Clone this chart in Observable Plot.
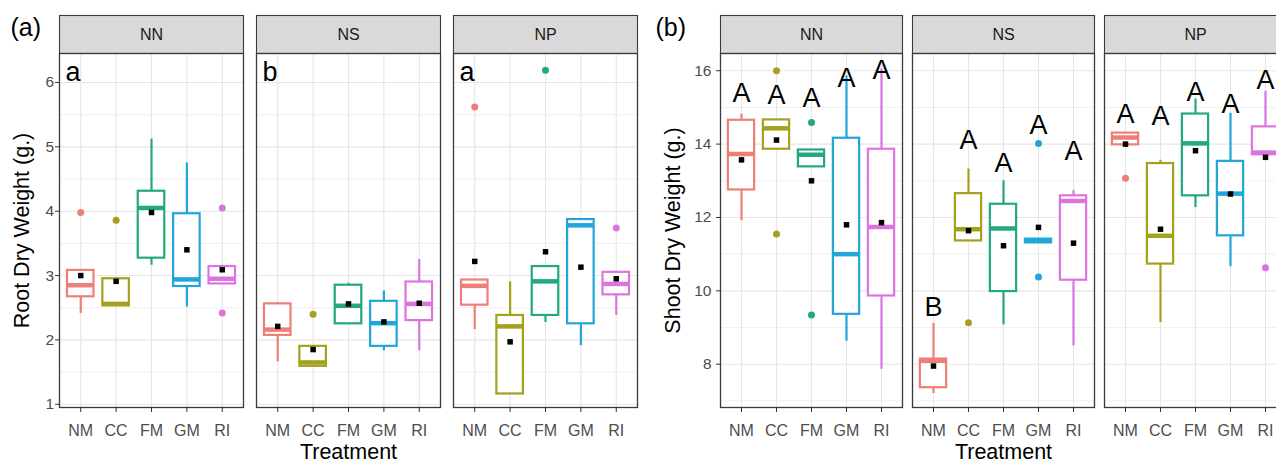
<!DOCTYPE html>
<html>
<head>
<meta charset="utf-8">
<script src="https://cdn.jsdelivr.net/npm/d3@7"></script>
<script src="https://cdn.jsdelivr.net/npm/@observablehq/plot@0.6"></script>
<style>
  html, body { margin: 0; padding: 0; background: #fff; overflow: hidden; }
  #wrap { position: relative; width: 1276px; height: 465px; overflow: hidden; background: #fff; }
  #wrap svg { position: absolute; top: 0; }
</style>
</head>
<body>
<div id="wrap"></div>
<script>
// ---------- categories ----------
const treatments = ["NM", "CC", "FM", "GM", "RI"];
const nutrients = ["NN", "NS", "NP"];
const treatmentColors = ["#EE7F77", "#A4A11E", "#22A882", "#21A6D9", "#DC74E0"];

// ---------- (a) Root dry weight: box statistics, order NN(NM..RI), NS(..), NP(..) ----------
const rootLower  = [2.41, 2.53, 3.16, 2.51, 2.87,   1.66, 1.59, 2.25, 1.83, 1.83,   2.16, 1.16, 2.27, 1.91, 2.38];
const rootQ1     = [2.67, 2.53, 3.27, 2.83, 2.87,   2.07, 1.59, 2.25, 1.90, 2.30,   2.54, 1.16, 2.38, 2.25, 2.70];
const rootMedian = [2.85, 2.56, 4.05, 2.94, 2.95,   2.16, 1.65, 2.53, 2.26, 2.56,   2.84, 2.21, 2.91, 3.78, 2.87];
const rootQ3     = [3.08, 2.95, 4.31, 3.96, 3.14,   2.56, 1.90, 2.85, 2.60, 2.90,   2.93, 2.38, 3.14, 3.87, 3.05];
const rootUpper  = [3.08, 2.95, 5.12, 4.75, 3.14,   2.58, 1.90, 2.88, 2.76, 3.25,   2.93, 2.90, 3.14, 3.87, 3.05];
const rootMean   = [3.00, 2.91, 3.98, 3.40, 3.09,   2.21, 1.85, 2.56, 2.28, 2.57,   3.22, 1.97, 3.37, 3.13, 2.95];
const rootOutFacet = ["NN", "NN", "NN", "NN", "NS", "NP", "NP", "NP"];
const rootOutTrt   = ["NM", "CC", "RI", "RI", "CC", "NM", "FM", "RI"];
const rootOutValue = [3.98, 3.86, 4.05, 2.42, 2.40, 5.62, 6.19, 3.74];
const rootLetters  = ["a", "b", "a"];
const rootTicks = [1, 2, 3, 4, 5, 6];
const rootMinor = [1.5, 2.5, 3.5, 4.5, 5.5];

// ---------- (b) Shoot dry weight ----------
const shootLower  = [11.91, 13.86, 13.38, 8.63, 7.86,   7.20, 11.36, 9.07, 11.33, 8.50,   13.98, 9.13, 12.27, 10.66, 13.71];
const shootQ1     = [12.75, 13.86, 13.38, 9.36, 9.86,   7.36, 11.36, 9.98, 11.31, 10.29,  13.98, 10.73, 12.59, 11.50, 13.71];
const shootMedian = [13.73, 14.43, 13.71, 11.00, 11.74, 8.09, 11.68, 11.70, 11.36, 12.45, 14.18, 11.50, 14.02, 12.65, 13.77];
const shootQ3     = [14.65, 14.66, 13.84, 14.16, 13.86, 8.14, 12.65, 12.36, 11.41, 12.59, 14.30, 13.47, 14.82, 13.53, 14.47];
const shootUpper  = [14.82, 14.66, 13.84, 15.86, 16.05, 9.11, 13.32, 13.00, 11.41, 12.73, 14.30, 13.56, 15.23, 14.84, 15.44];
const shootMean   = [13.57, 14.11, 13.00, 11.80, 11.86, 7.95, 11.64, 11.23, 11.73, 11.30, 14.00, 11.68, 13.82, 12.64, 13.64];
const shootOutFacet = ["NN", "NN", "NN", "NN", "NS", "NS", "NS", "NP", "NP"];
const shootOutTrt   = ["CC", "CC", "FM", "FM", "CC", "GM", "GM", "NM", "RI"];
const shootOutValue = [16.0, 11.55, 14.59, 9.34, 9.13, 14.02, 10.38, 13.07, 10.63];
const shootLetters  = ["A", "A", "A", "A", "A",   "B", "A", "A", "A", "A",   "A", "A", "A", "A", "A"];
const shootLetterY  = [15.37, 15.32, 15.24, 15.78, 16.0,  9.54, 14.09, 13.48, 14.5, 13.8,  14.82, 14.77, 15.41, 15.09, 15.73];
const shootTicks = [8, 10, 12, 14, 16];
const shootMinor = [7, 9, 11, 13, 15];

const FONT = "'Liberation Sans', Arial, Helvetica, sans-serif";

function drawPanel(cfg) {
  const rows = [];
  nutrients.forEach((f, i) => treatments.forEach((t, j) => {
    const k = i * 5 + j;
    rows.push({facet: f, trt: t, lo: cfg.lo[k], q1: cfg.q1[k], med: cfg.med[k], q3: cfg.q3[k],
               hi: cfg.hi[k], mean: cfg.mean[k], letter: cfg.letters ? cfg.letters[k] : null,
               letterY: cfg.letterY ? cfg.letterY[k] : null});
  }));
  const outs = cfg.outValue.map((v, i) => ({facet: cfg.outFacet[i], trt: cfg.outTrt[i], v}));
  const H = 465, mTop = 53, mBottom = 58;
  const panelH = H - mTop - mBottom;

  const marks = [
    // strips
    Plot.frame({fill: "#d9d9d9", stroke: "#3a3a3a", strokeWidth: 1.1, insetTop: -38, insetBottom: panelH}),
    Plot.text(nutrients, {fx: d => d, text: d => d, frameAnchor: "top", dy: -19, lineAnchor: "middle",
      fontSize: 16, fill: "#1a1a1a"}),
    // grid
    Plot.gridY(cfg.minor, {stroke: "#ececec", strokeOpacity: 1, strokeWidth: 0.8}),
    Plot.gridY(cfg.ticks, {stroke: "#e6e6e6", strokeOpacity: 1, strokeWidth: 1.1}),
    Plot.gridX({stroke: "#e6e6e6", strokeOpacity: 1, strokeWidth: 1.1}),
    // whiskers
    Plot.ruleX(rows, {fx: "facet", x: "trt", y1: "lo", y2: "q1", stroke: "trt", strokeWidth: 2.2}),
    Plot.ruleX(rows, {fx: "facet", x: "trt", y1: "q3", y2: "hi", stroke: "trt", strokeWidth: 2.2}),
    // boxes
    Plot.barY(rows, {fx: "facet", x: "trt", y1: "q1", y2: "q3", fill: "white", stroke: "trt", strokeWidth: 2.2}),
    // medians
    Plot.tickY(rows, {fx: "facet", x: "trt", y: "med", stroke: "trt", strokeWidth: 4.5}),
    // outliers
    Plot.dot(outs, {fx: "facet", x: "trt", y: "v", fill: "trt", r: 3.5}),
    // means
    Plot.dot(rows, {fx: "facet", x: "trt", y: "mean", symbol: "square", fill: "black", r: 3.1}),
    // panel border
    Plot.frame({stroke: "#3a3a3a", strokeWidth: 1.3}),
    // axes
    Plot.axisX({tickSize: 5, tickPadding: 12, fontSize: 16, fill: "#4d4d4d", stroke: "#333", label: null}),
    Plot.axisY(cfg.ticks, {tickSize: 4, tickPadding: cfg.yPad, fontSize: 15.5, fill: "#4d4d4d", stroke: "#333",
      label: null, tickFormat: d => String(d)}),
    // axis titles
    Plot.text([cfg.yTitle], {fx: () => "NN", text: d => d, frameAnchor: "left", rotate: -90,
      dx: cfg.yTitleDx, textAnchor: "middle", lineAnchor: "middle", fontSize: 21.5, fill: "black"}),
    Plot.text(["Treatment"], {fx: () => "NS", text: d => d, frameAnchor: "bottom", dy: 45,
      lineAnchor: "middle", fontSize: 21.5, fill: "black"}),
    // panel tag
    Plot.text([cfg.tag], {fx: () => "NN", text: d => d, frameAnchor: "top-left", dx: cfg.tagDx, dy: -26,
      textAnchor: "start", lineAnchor: "middle", fontSize: 25, fill: "black"})
  ];

  if (cfg.facetLetters) {
    marks.push(Plot.text(cfg.facetLetters, {fx: (d, i) => nutrients[i], text: d => d, frameAnchor: "top-left",
      dx: 6, dy: 8, lineAnchor: "top", textAnchor: "start", fontSize: 27, fill: "black"}));
  }
  if (cfg.letters) {
    marks.push(Plot.text(rows, {fx: "facet", x: "trt", y: "letterY", text: "letter", lineAnchor: "middle",
      fontSize: 27, fill: "black"}));
  }

  const svg = Plot.plot({
    width: cfg.width, height: H,
    marginTop: mTop, marginBottom: mBottom, marginLeft: cfg.mLeft, marginRight: cfg.mRight,
    style: {fontFamily: FONT, background: "transparent", overflow: "visible"},
    fx: {domain: nutrients, paddingInner: cfg.fxPad, paddingOuter: 0, round: false, axis: null, label: null},
    x: {domain: treatments, paddingInner: 0.25, paddingOuter: 0.225, round: false, label: null},
    y: {domain: cfg.yDomain, label: null},
    color: {domain: treatments, range: treatmentColors},
    marks
  });
  svg.style.left = cfg.left + "px";
  return svg;
}

const wrap = document.getElementById("wrap");
wrap.appendChild(drawPanel({
  left: 0, width: 645, mLeft: 59, mRight: 8, fxPad: 13 / 197, yPad: 1.5,
  yDomain: [0.95, 6.45], ticks: rootTicks, minor: rootMinor,
  lo: rootLower, q1: rootQ1, med: rootMedian, q3: rootQ3, hi: rootUpper, mean: rootMean,
  outFacet: rootOutFacet, outTrt: rootOutTrt, outValue: rootOutValue,
  facetLetters: rootLetters, yTitle: "Root Dry Weight (g.)", yTitleDx: -37.5,
  tag: "(a)", tagDx: -49
}));
wrap.appendChild(drawPanel({
  left: 640, width: 660, mLeft: 80, mRight: 14, fxPad: 10 / 192, yPad: 5,
  yDomain: [6.82, 16.47], ticks: shootTicks, minor: shootMinor,
  lo: shootLower, q1: shootQ1, med: shootMedian, q3: shootQ3, hi: shootUpper, mean: shootMean,
  outFacet: shootOutFacet, outTrt: shootOutTrt, outValue: shootOutValue,
  letters: shootLetters, letterY: shootLetterY, yTitle: "Shoot Dry Weight (g.)", yTitleDx: -47.5,
  tag: "(b)", tagDx: -65
}));
</script>
</body>
</html>
